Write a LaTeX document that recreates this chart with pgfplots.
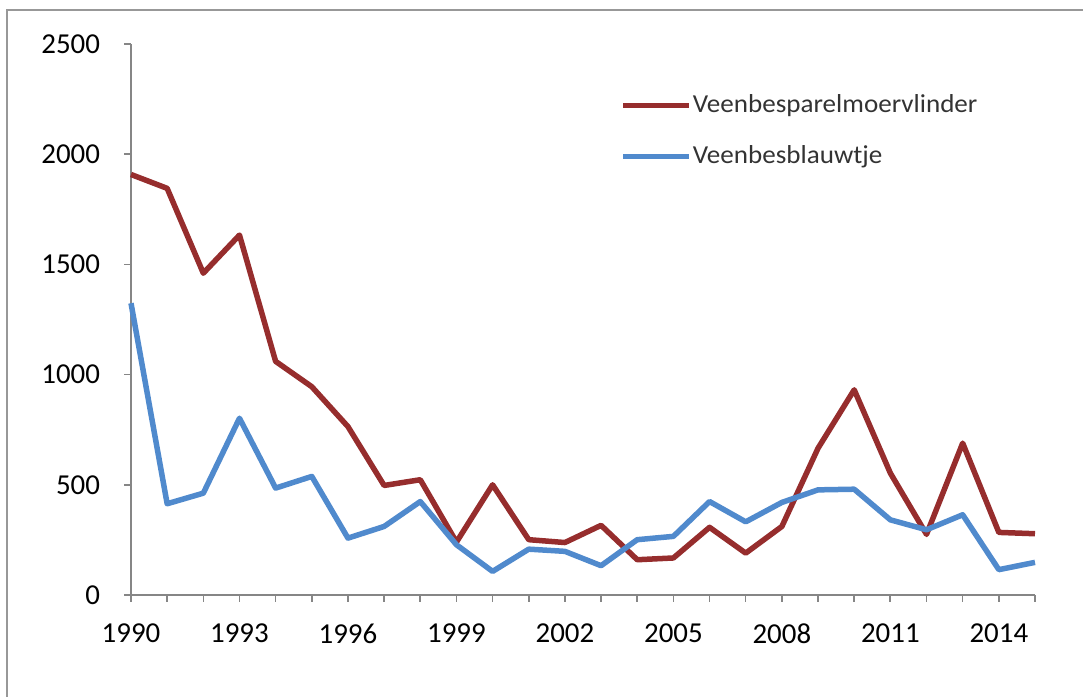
\documentclass[border=0pt]{standalone}
\usepackage{fontspec}
\setmainfont{Carlito}
\newfontfamily\legfont[FakeStretch=1.045]{Carlito}
\usepackage{pgfplots}
\pgfplotsset{compat=1.18}
\definecolor{redline}{RGB}{150,45,45}
\definecolor{blueline}{RGB}{80,138,205}
\definecolor{axisgray}{RGB}{134,134,134}
\begin{document}
\begin{tikzpicture}
\useasboundingbox (0,0) rectangle (541.5bp,348.5bp);
\draw[color=axisgray!85, line width=1bp] (3.5bp,-20bp) rectangle (560bp,343.5bp);
\begin{axis}[
  at={(65.5bp,51bp)}, anchor=south west,
  scale only axis, width=452bp, height=275.5bp,
  xmin=1990, xmax=2015, ymin=0, ymax=2500,
  axis x line*=bottom, axis y line*=left,
  axis line style={draw=axisgray, line width=1bp},
  xtick={1990,1993,...,2014}, minor xtick={1991,1992,...,2015},
  ytick={0,500,...,2500},
  tick align=outside, major tick length=3.5bp, minor tick length=3.5bp,
  tick style={draw=axisgray, line width=0.8bp},
  minor tick style={draw=axisgray, line width=0.8bp},
  /pgf/number format/1000 sep={}, /pgf/number format/assume math mode=true,
  ticklabel style={font=\fontsize{14.5}{16}\selectfont, text=black},
  yticklabel style={xshift=-8.5bp},
  xticklabel style={yshift=-7.5bp},
  clip=false,
  legend cell align=left,
  legend style={draw=none, fill=none, at={(0.541,0.91)}, anchor=north west,
    font=\legfont\fontsize{13}{14}\selectfont, text=black!80, inner sep=0pt, row sep=14bp,
    /tikz/every even column/.append style={column sep=0.5bp},
    nodes={inner sep=0.5bp}},
  legend image code/.code={\draw[#1, line width=2.75bp] (0bp,0bp) -- (33bp,0bp);},
  every axis plot/.append style={line width=2.75bp, line join=round, mark=none},
]
\addplot[color=redline] coordinates {
(1990,1908) (1991,1845) (1992,1460) (1993,1633) (1994,1060) (1995,945)
(1996,764) (1997,497) (1998,523) (1999,240) (2000,500) (2001,251)
(2002,238) (2003,316) (2004,160) (2005,168) (2006,307) (2007,190)
(2008,311) (2009,666) (2010,931) (2011,553) (2012,275) (2013,689)
(2014,284) (2015,278)};
\addlegendentry{Veenbesparelmoervlinder}
\addplot[color=blueline] coordinates {
(1990,1324) (1991,414) (1992,462) (1993,802) (1994,485) (1995,538)
(1996,258) (1997,311) (1998,424) (1999,228) (2000,107) (2001,208)
(2002,198) (2003,133) (2004,251) (2005,266) (2006,424) (2007,332)
(2008,420) (2009,477) (2010,480) (2011,341) (2012,296) (2013,364)
(2014,115) (2015,148)};
\addlegendentry{Veenbesblauwtje}
\end{axis}
\end{tikzpicture}
\end{document}
